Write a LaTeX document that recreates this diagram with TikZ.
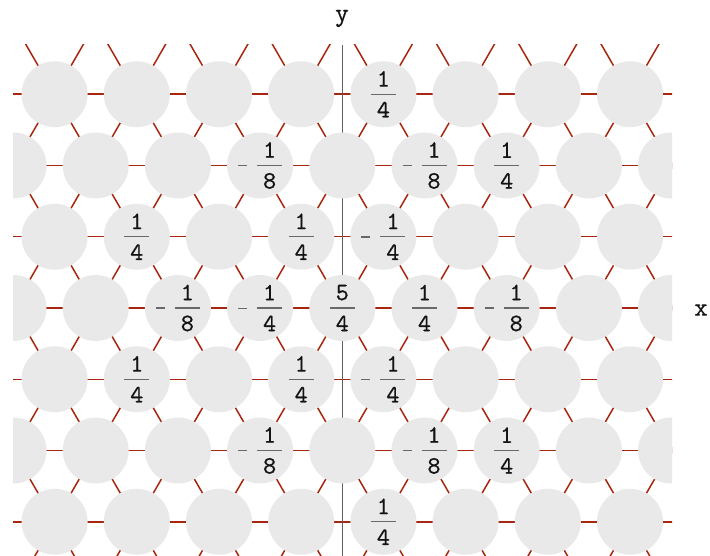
\documentclass[tikz,border=0pt]{standalone}
\usepackage{fontspec}
\newfontfamily\courfont[FakeBold=0.5]{lmmono10-regular.otf}
\usepackage{tikz}
\usetikzlibrary{positioning}
\definecolor{bondred}{RGB}{168,38,16}
\definecolor{sitegray}{RGB}{233,233,233}
\definecolor{axisgray}{RGB}{95,95,95}
\definecolor{bargray}{RGB}{105,105,105}
\definecolor{digitdark}{RGB}{20,20,20}

% stacked fraction and its minus sign
\newcommand{\frc}[2]{\vbox{\offinterlineskip
  \hbox to 25pt{\hss#1\hss}\kern7pt
  \hbox{\textcolor{bargray}{\rule{25pt}{1.3pt}}}\kern7pt
  \hbox to 25pt{\hss#2\hss}}}
\newcommand{\mns}{\textcolor{bargray}{\rule[\dimexpr\fontcharht\font`\1+7pt\relax]{9pt}{1.3pt}}\hspace{10pt}}

\begin{document}
\begin{tikzpicture}[x=1pt, y=-1pt,
  every node/.style={font=\courfont\fontsize{25}{29}\selectfont, text=digitdark},
  axislabel/.style={font=\courfont\fontsize{26}{30}\selectfont, inner sep=0pt},
  site/.style={circle, fill=sitegray, minimum size=66pt, inner sep=0pt},
  bond/.style={draw=bondred, line width=1.5pt},
  axis/.style={draw=axisgray, line width=1.3pt}
]
  \useasboundingbox (0,0) rectangle (710,556);
  \begin{scope}
    \clip (13,45) rectangle (672,556);
    % x axis, under the bonds
    \draw[axis] (12,308) -- (672,308);
    % horizontal bonds
    \foreach \j in {-3,...,3} {
      \pgfmathsetmacro\py{308-71.25*\j}
      \draw[bond] (0,\py) -- (710,\py);
    }
    % slanted bonds
    \foreach \m in {-6,...,6} {
      \pgfmathsetmacro\xa{342.3+82.2*\m-164.4}
      \pgfmathsetmacro\xb{342.3+82.2*\m+164.4}
      \draw[bond] (\xa,593) -- (\xb,23);
      \draw[bond] (\xb,593) -- (\xa,23);
    }
    \coordinate (ytop) at (342.3,45);
    \coordinate (ybot) at (342.3,556);
    \draw[axis] (ytop) -- (ybot);
    % sites
    \foreach \j in {-3,...,3}
      \foreach \k in {-4,...,4} {
        \pgfmathsetmacro\px{342.3+41.1*(2*\k+mod(abs(\j),2))}
        \pgfmathsetmacro\py{308-71.25*\j}
        \node[site] (c\k r\j) at (\px,\py) {};
      }
  \end{scope}

  % values
  \node (v1) at (c0r3) {\frc{1}{4}};
  \node (v2) at (c-1r2) {\mns\frc{1}{8}};
  \node (v3) at (c1r2) {\mns\frc{1}{8}};
  \node (v4) at (c2r2) {\frc{1}{4}};
  \node (v5) at (c-3r1) {\frc{1}{4}};
  \node (v6) at (c-1r1) {\frc{1}{4}};
  \node (v7) at (c0r1) {\mns\frc{1}{4}};
  \node (v8) at (c-2r0) {\mns\frc{1}{8}};
  \node (v9) at (c-1r0) {\mns\frc{1}{4}};
  \node (v10) at (c0r0) {\frc{5}{4}};
  \node (v11) at (c1r0) {\frc{1}{4}};
  \node (v12) at (c2r0) {\mns\frc{1}{8}};
  \node (v13) at (c-3r-1) {\frc{1}{4}};
  \node (v14) at (c-1r-1) {\frc{1}{4}};
  \node (v15) at (c0r-1) {\mns\frc{1}{4}};
  \node (v16) at (c-1r-2) {\mns\frc{1}{8}};
  \node (v17) at (c1r-2) {\mns\frc{1}{8}};
  \node (v18) at (c2r-2) {\frc{1}{4}};
  \node (v19) at (c0r-3) {\frc{1}{4}};

  % axis labels
  \node[axislabel] (ylab) at (342,18.5) {y};
  \node[axislabel] (xlab) at (701,310) {x};
\end{tikzpicture}
\end{document}
